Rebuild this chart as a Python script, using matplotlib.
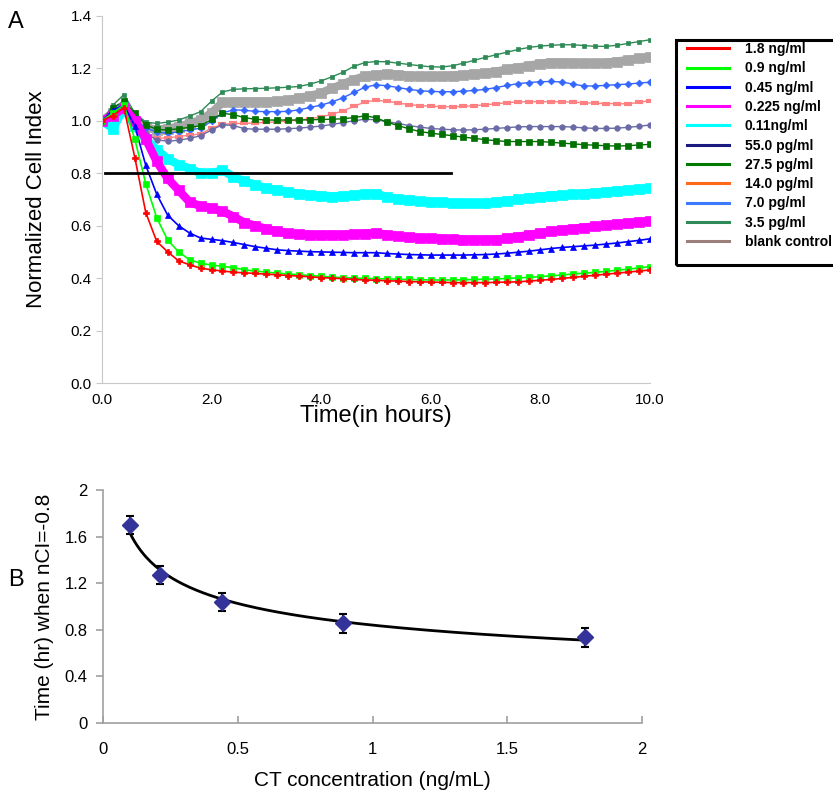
import numpy as np
import matplotlib
matplotlib.use("Agg")
import matplotlib.pyplot as plt
from matplotlib.lines import Line2D
from matplotlib.patches import Rectangle

plt.rcParams['font.family'] = ['Liberation Sans', 'DejaVu Sans']

# ---------------- Panel A data ----------------
time_h = np.round(np.arange(0, 10.0001, 0.2), 2)

ci_1_8ng = [1.00, 1.02, 1.05, 0.86, 0.65, 0.54, 0.50, 0.466, 0.451, 0.438, 0.432,
            0.427, 0.423, 0.420, 0.418, 0.415, 0.413, 0.410, 0.408, 0.405, 0.402,
            0.400, 0.398, 0.395, 0.393, 0.392, 0.390, 0.389, 0.387, 0.386, 0.385,
            0.384, 0.383, 0.383, 0.383, 0.383, 0.384, 0.385, 0.386, 0.389, 0.392,
            0.395, 0.399, 0.403, 0.407, 0.411, 0.415, 0.419, 0.423, 0.427, 0.431]
ci_0_9ng = [1.00, 1.03, 1.06, 0.93, 0.76, 0.63, 0.545, 0.50, 0.47, 0.457, 0.450,
            0.445, 0.440, 0.432, 0.427, 0.423, 0.419, 0.416, 0.413, 0.410, 0.407,
            0.404, 0.402, 0.400, 0.399, 0.398, 0.397, 0.396, 0.395, 0.394, 0.393,
            0.393, 0.393, 0.394, 0.395, 0.396, 0.397, 0.399, 0.401, 0.403, 0.406,
            0.409, 0.412, 0.416, 0.419, 0.422, 0.426, 0.430, 0.434, 0.439, 0.444]
ci_0_45ng = [1.00, 1.04, 1.06, 0.98, 0.83, 0.72, 0.64, 0.60, 0.572, 0.553, 0.548,
             0.543, 0.536, 0.528, 0.520, 0.514, 0.508, 0.505, 0.503, 0.501, 0.500,
             0.499, 0.498, 0.497, 0.497, 0.497, 0.494, 0.492, 0.490, 0.489, 0.488,
             0.488, 0.488, 0.488, 0.489, 0.490, 0.492, 0.495, 0.499, 0.503, 0.508,
             0.513, 0.517, 0.520, 0.523, 0.526, 0.530, 0.534, 0.539, 0.544, 0.550]
ci_0_225ng = [1.00, 1.02, 1.05, 1.00, 0.93, 0.845, 0.78, 0.735, 0.69, 0.675, 0.667,
              0.655, 0.635, 0.612, 0.600, 0.588, 0.578, 0.571, 0.567, 0.565, 0.565,
              0.565, 0.565, 0.567, 0.570, 0.572, 0.566, 0.560, 0.556, 0.553, 0.552,
              0.550, 0.548, 0.547, 0.546, 0.546, 0.547, 0.552, 0.558, 0.565, 0.572,
              0.578, 0.584, 0.588, 0.593, 0.597, 0.602, 0.606, 0.610, 0.614, 0.618]
ci_0_11ng = [1.00, 0.97, 1.05, 0.98, 0.93, 0.89, 0.855, 0.833, 0.818, 0.800, 0.800,
             0.812, 0.786, 0.770, 0.756, 0.743, 0.735, 0.729, 0.722, 0.717, 0.714,
             0.711, 0.713, 0.717, 0.721, 0.722, 0.710, 0.702, 0.697, 0.693, 0.691,
             0.689, 0.687, 0.686, 0.685, 0.686, 0.690, 0.695, 0.700, 0.706, 0.711,
             0.715, 0.717, 0.719, 0.722, 0.725, 0.728, 0.732, 0.736, 0.740, 0.743]
ci_55pg = [1.00, 1.03, 1.06, 0.99, 0.95, 0.928, 0.922, 0.926, 0.933, 0.943, 0.965,
           0.985, 0.982, 0.970, 0.968, 0.968, 0.968, 0.970, 0.972, 0.976, 0.980,
           0.986, 0.993, 1.000, 1.006, 1.004, 0.997, 0.990, 0.982, 0.976, 0.971,
           0.968, 0.966, 0.965, 0.966, 0.968, 0.971, 0.974, 0.977, 0.978, 0.978,
           0.978, 0.978, 0.976, 0.973, 0.971, 0.971, 0.972, 0.975, 0.979, 0.984]
ci_27_5pg = [1.00, 1.05, 1.075, 1.03, 0.985, 0.967, 0.965, 0.970, 0.975, 0.981, 1.005,
             1.028, 1.024, 1.012, 1.006, 1.003, 1.003, 1.003, 1.003, 1.004, 1.005,
             1.006, 1.008, 1.012, 1.019, 1.012, 0.995, 0.982, 0.970, 0.959, 0.953,
             0.948, 0.943, 0.938, 0.933, 0.928, 0.924, 0.921, 0.921, 0.921, 0.921,
             0.918, 0.915, 0.912, 0.909, 0.907, 0.905, 0.904, 0.905, 0.908, 0.910]
ci_14pg = [1.00, 1.02, 1.04, 0.97, 0.945, 0.933, 0.935, 0.940, 0.945, 0.950, 0.972,
           0.987, 0.990, 0.990, 0.992, 0.994, 0.996, 0.999, 1.003, 1.008, 1.015,
           1.025, 1.038, 1.055, 1.072, 1.078, 1.075, 1.068, 1.062, 1.058, 1.056,
           1.054, 1.054, 1.055, 1.058, 1.061, 1.065, 1.069, 1.072, 1.073, 1.073,
           1.073, 1.073, 1.071, 1.069, 1.067, 1.066, 1.065, 1.065, 1.070, 1.077]
ci_7pg = [1.00, 1.05, 1.07, 1.005, 0.972, 0.958, 0.952, 0.958, 0.965, 0.972, 0.998,
          1.030, 1.042, 1.040, 1.036, 1.035, 1.035, 1.036, 1.042, 1.051, 1.060,
          1.072, 1.088, 1.108, 1.128, 1.137, 1.134, 1.127, 1.120, 1.115, 1.112,
          1.111, 1.111, 1.113, 1.116, 1.120, 1.127, 1.135, 1.142, 1.146, 1.149,
          1.150, 1.148, 1.140, 1.133, 1.133, 1.135, 1.138, 1.140, 1.144, 1.147]
ci_3_5pg = [1.00, 1.06, 1.10, 1.03, 0.995, 0.990, 0.995, 1.003, 1.018, 1.035, 1.075,
            1.110, 1.120, 1.122, 1.123, 1.124, 1.126, 1.128, 1.131, 1.140, 1.152,
            1.168, 1.185, 1.208, 1.222, 1.226, 1.225, 1.220, 1.215, 1.210, 1.206,
            1.205, 1.210, 1.220, 1.231, 1.242, 1.252, 1.262, 1.272, 1.280, 1.285,
            1.288, 1.290, 1.290, 1.287, 1.284, 1.284, 1.288, 1.295, 1.302, 1.309]
ci_blank = [1.00, 1.03, 1.05, 1.00, 0.975, 0.965, 0.970, 0.978, 0.990, 1.003, 1.030,
            1.070, 1.073, 1.073, 1.073, 1.073, 1.074, 1.078, 1.087, 1.095, 1.106,
            1.124, 1.140, 1.157, 1.170, 1.175, 1.178, 1.176, 1.172, 1.170, 1.169,
            1.170, 1.172, 1.175, 1.178, 1.182, 1.188, 1.196, 1.203, 1.210, 1.218,
            1.222, 1.222, 1.221, 1.220, 1.219, 1.221, 1.226, 1.232, 1.238, 1.243]

legend_labels = ["1.8 ng/ml", "0.9 ng/ml", "0.45 ng/ml", "0.225 ng/ml", "0.11ng/ml",
                 "55.0 pg/ml", "27.5 pg/ml", "14.0 pg/ml", "7.0 pg/ml", "3.5 pg/ml",
                 "blank control"]

threshold_nci = 0.8
threshold_t_start = 0.05
threshold_t_end = 6.38

# ---------------- Panel B data ----------------
ct_conc = [0.10, 0.21, 0.44, 0.89, 1.79]
time_at_08 = [1.70, 1.27, 1.04, 0.855, 0.735]
time_err = [0.08, 0.08, 0.08, 0.08, 0.08]

# ---------------- Figure ----------------
fig = plt.figure(figsize=(8.33, 7.96), dpi=100)
axA = fig.add_axes([0.1224, 0.5188, 0.6576, 0.4612])

# legend order: (data, plot colour, marker, markersize, linewidth, legend colour)
styles = [
    (ci_1_8ng,  '#ff0000', 'P', 4.0, 1.2, '#ff0000'),
    (ci_0_9ng,  '#00ff00', 's', 4.0, 1.2, '#00ff00'),
    (ci_0_45ng, '#0000ff', '^', 4.0, 1.2, '#0000ff'),
    (ci_0_225ng,'#ff00ff', 's', 7.5, 6.0, '#ff00ff'),
    (ci_0_11ng, '#00ffff', 's', 7.5, 6.0, '#00ffff'),
    (ci_55pg,   '#6a6aa6', 'o', 4.0, 1.0, '#1a1a80'),
    (ci_27_5pg, '#007000', 's', 5.0, 1.0, '#007a00'),
    (ci_14pg,   '#ff8080', '_', 6.0, 1.0, '#ff6a1a'),
    (ci_7pg,    '#3366ff', 'D', 3.5, 1.0, '#3d7aff'),
    (ci_3_5pg,  '#2e8b57', 's', 3.0, 1.0, '#2e8b57'),
    (ci_blank,  '#a6a6a6', 's', 7.5, 6.0, '#9b7f7a'),
]
draw_order = [10, 9, 8, 7, 5, 6, 4, 3, 2, 1, 0]
for i in draw_order:
    data, col, mk, ms, lw, _ = styles[i]
    mew = 3.0 if mk == '_' else 0.5
    axA.plot(time_h, data, color=col, marker=mk, markersize=ms, linewidth=lw,
             markeredgecolor=col, markerfacecolor=col, markeredgewidth=mew)

axA.plot([threshold_t_start, threshold_t_end], [threshold_nci, threshold_nci],
         color='black', linewidth=2.0)

axA.set_xlim(0, 10)
axA.set_ylim(0, 1.4)
axA.set_xticks(np.arange(0, 10.01, 2))
axA.set_xticklabels([f"{v:.1f}" for v in np.arange(0, 10.01, 2)])
axA.set_yticks(np.arange(0, 1.401, 0.2))
axA.set_yticklabels([f"{v:.1f}" for v in np.arange(0, 1.401, 0.2)])
for s in ['top', 'right']:
    axA.spines[s].set_visible(False)
for s in ['left', 'bottom']:
    axA.spines[s].set_color('#c8c8c8')
axA.tick_params(axis='both', labelsize=11, color='#c8c8c8', length=4)
axA.tick_params(axis='x', length=0, pad=7)
axA.set_xlabel("Time(in hours)", fontsize=17, labelpad=-1)
axA.set_ylabel("Normalized Cell Index", fontsize=16, labelpad=17)

# Legend (colours as in the original legend box)
handles = [Line2D([0], [0], color=s[5], linewidth=2.2) for s in styles]
leg = fig.legend(handles, legend_labels,
                 loc='upper left', bbox_to_anchor=(683 / 833, 1 - 38 / 796),
                 frameon=False, prop={'weight': 'bold', 'size': 10},
                 handlelength=3.0, handletextpad=1.15, labelspacing=0.38,
                 borderpad=0.3, borderaxespad=0)
fig.patches.append(Rectangle((676 / 833, 1 - 265 / 796), 160 / 833, 225 / 796,
                             transform=fig.transFigure, fill=False,
                             edgecolor='black', linewidth=2.2))

fig.text(0.010, 0.9645, "A", fontsize=17)

# ---------------- Panel B ----------------
axB = fig.add_axes([0.1237, 0.0917, 0.647, 0.2927])
xfit = np.linspace(min(ct_conc), max(ct_conc), 200)
coef = np.polyfit(np.log(ct_conc), np.log(time_at_08), 1)
axB.plot(xfit, np.exp(coef[1]) * xfit ** coef[0], color='black', linewidth=2.0)
axB.errorbar(ct_conc, time_at_08, yerr=time_err, fmt='D', color='#333399',
             markersize=8, ecolor='black', elinewidth=1.5, capsize=3, capthick=1.5,
             markeredgecolor='#333399')
axB.set_xlim(0, 2)
axB.set_ylim(0, 2)
axB.set_xticks([0, 0.5, 1, 1.5, 2])
axB.set_xticklabels(["0", "0.5", "1", "1.5", "2"])
axB.set_yticks([0, 0.4, 0.8, 1.2, 1.6, 2])
axB.set_yticklabels(["0", "0.4", "0.8", "1.2", "1.6", "2"])
for s in ['top', 'right']:
    axB.spines[s].set_visible(False)
for s in ['left', 'bottom']:
    axB.spines[s].set_color('#a0a0a0')
    axB.spines[s].set_linewidth(1.2)
axB.tick_params(axis='both', labelsize=12, color='#a0a0a0', width=1.2)
axB.tick_params(axis='x', direction='in', length=5, pad=14)
axB.tick_params(axis='y', direction='out', length=5, pad=6)
axB.set_xlabel("CT concentration (ng/mL)", fontsize=15, labelpad=10)
axB.set_ylabel("Time (hr) when nCI=-0.8", fontsize=15, labelpad=8)

fig.text(0.010, 0.264, "B", fontsize=17)

fig.savefig("out.png", dpi=100)
